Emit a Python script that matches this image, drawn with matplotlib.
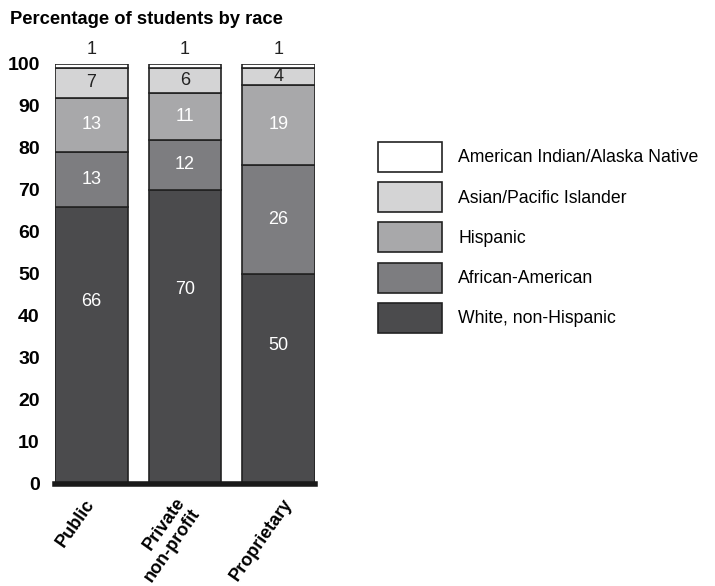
import numpy as np
import matplotlib.pyplot as plt
from matplotlib.transforms import ScaledTranslation

plt.rcParams['font.family'] = ['Liberation Sans', 'DejaVu Sans']

sectors = ['Public', 'Private\nnon-profit', 'Proprietary']
races = ['White, non-Hispanic', 'African-American', 'Hispanic',
         'Asian/Pacific Islander', 'American Indian/Alaska Native']
white = [66, 70, 50]
african = [13, 12, 26]
hispanic = [13, 11, 19]
asian = [7, 6, 4]
native = [1, 1, 1]

series = [white, african, hispanic, asian, native]
colors = ['#4b4b4d', '#7d7d80', '#a8a8aa', '#d4d4d5', '#ffffff']
text_colors = ['white', 'white', 'white', '#222222', '#222222']

fig = plt.figure(figsize=(7.15, 5.86), dpi=100)
ax = fig.add_axes([55 / 715, 1 - 484 / 586, 260 / 715, 420 / 586])

x = np.arange(len(sectors))
width = 0.78
bottom = np.zeros(len(sectors))
handles = []
for i, (vals, col, tc, name) in enumerate(zip(series, colors, text_colors, races)):
    b = ax.bar(x, vals, width, bottom=bottom, color=col, edgecolor='#222222',
               linewidth=1.2, label=name)
    handles.append(b)
    for xi, v, bt in zip(x, vals, bottom):
        if v <= 1:
            # tiny top segment: label sits above the bar
            ax.text(xi, bt + v + 3.4, str(v), ha='center', va='center',
                    fontsize=13, color='#222222')
        elif i == 0:
            # bottom segment labels sit above the middle
            ax.text(xi, bt + v * 0.66, str(v), ha='center', va='center',
                    fontsize=13, color=tc)
        else:
            ax.text(xi, bt + v / 2, str(v), ha='center', va='center',
                    fontsize=13, color=tc)
    bottom = bottom + np.array(vals)

ax.set_xlim(-width / 2, 2 + width / 2)
ax.set_ylim(0, 100)
ax.axhline(0, color='#1a1a1a', lw=4, clip_on=False, zorder=5)

ax.set_yticks(range(0, 101, 10))
ax.set_yticklabels([str(t) for t in range(0, 101, 10)], fontsize=14, fontweight='bold')
ax.tick_params(axis='y', length=0, pad=11)
ax.set_xticks(x)
ax.set_xticklabels(sectors, rotation=55, fontsize=13,
                   fontweight='bold', linespacing=1.1)
ax.tick_params(axis='x', length=0, pad=12)
# small nudges (pixels right, pixels down) to match the reference placement
nudges = [(0, 0), (4, 4), (10, 0)]
for lab, (dx, dy) in zip(ax.get_xticklabels(), nudges):
    lab.set_rotation_mode('anchor')
    lab.set_ha('right')
    lab.set_va('center')
    lab.set_transform(lab.get_transform() +
                      ScaledTranslation(dx / 100, -dy / 100, fig.dpi_scale_trans))
for s in ax.spines.values():
    s.set_visible(False)

fig.text(10 / 715, 1 - 19 / 586, 'Percentage of students by race', fontsize=13.2,
         fontweight='bold', va='center', ha='left')

fig.legend(handles[::-1], races[::-1], loc='upper left',
           bbox_to_anchor=(378 / 715, 1 - 142 / 586), frameon=False,
           fontsize=12.7, handlelength=3.6, handleheight=2.24, labelspacing=0.58,
           handletextpad=0.95, borderpad=0, borderaxespad=0)

fig.savefig('out.png', dpi=100)
